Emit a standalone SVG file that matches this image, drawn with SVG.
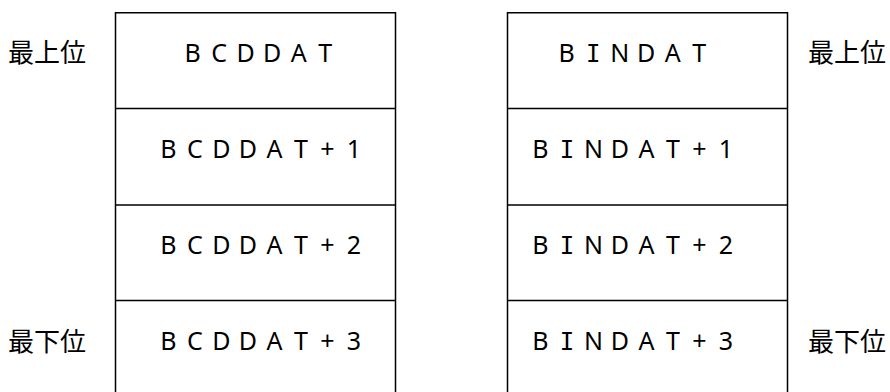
<svg xmlns="http://www.w3.org/2000/svg" width="890" height="392" viewBox="0 0 890 392">
<style>
.ln{stroke:#000;stroke-width:1.5;fill:none}
text{font-family:"Noto Sans","Noto Sans CJK JP",sans-serif;font-size:25px;fill:#000}
.c{text-anchor:middle}
.s{font-family:"DejaVu Sans Mono",monospace;font-size:24px}
.lab{font-family:"Noto Sans CJK JP",sans-serif;font-size:26px}
</style>
<rect width="890" height="392" fill="#fff"/>
<g id="bcd">
<path class="ln" d="M115.5,400 V12.75 H395.5 V400"/>
<path class="ln" d="M115.5,108.5 H395.5 M115.5,205 H395.5 M115.5,300.5 H395.5"/>
<text class="c" x="192.7 219.2 245.7 272.2 298.7 325.2" y="62">BCDDAT</text>
<text class="c" x="168.5 195 221.5 248 274.5 301 327.5 354" y="158">BCDDAT+1</text>
<text class="c" x="168.5 195 221.5 248 274.5 301 327.5 354" y="254">BCDDAT+2</text>
<text class="c" x="168.5 195 221.5 248 274.5 301 327.5 354" y="350">BCDDAT+3</text>
</g>
<g id="bin">
<path class="ln" d="M507.5,400 V12.75 H787.5 V400"/>
<path class="ln" d="M507.5,108.5 H787.5 M507.5,205 H787.5 M507.5,300.5 H787.5"/>
<text class="c" x="566.7 593.2 619.7 646.2 672.7 699.2" y="62">B<tspan class="s">I</tspan>NDAT</text>
<text class="c" x="540.5 567 593.5 620 646.5 673 699.5 726" y="158">B<tspan class="s">I</tspan>NDAT+1</text>
<text class="c" x="540.5 567 593.5 620 646.5 673 699.5 726" y="254">B<tspan class="s">I</tspan>NDAT+2</text>
<text class="c" x="540.5 567 593.5 620 646.5 673 699.5 726" y="350">B<tspan class="s">I</tspan>NDAT+3</text>
</g>
<g id="labels">
<text class="lab" x="8" y="62">最上位</text>
<text class="lab" x="8" y="351">最下位</text>
<text class="lab" x="808" y="62">最上位</text>
<text class="lab" x="808" y="351">最下位</text>
</g>
</svg>
